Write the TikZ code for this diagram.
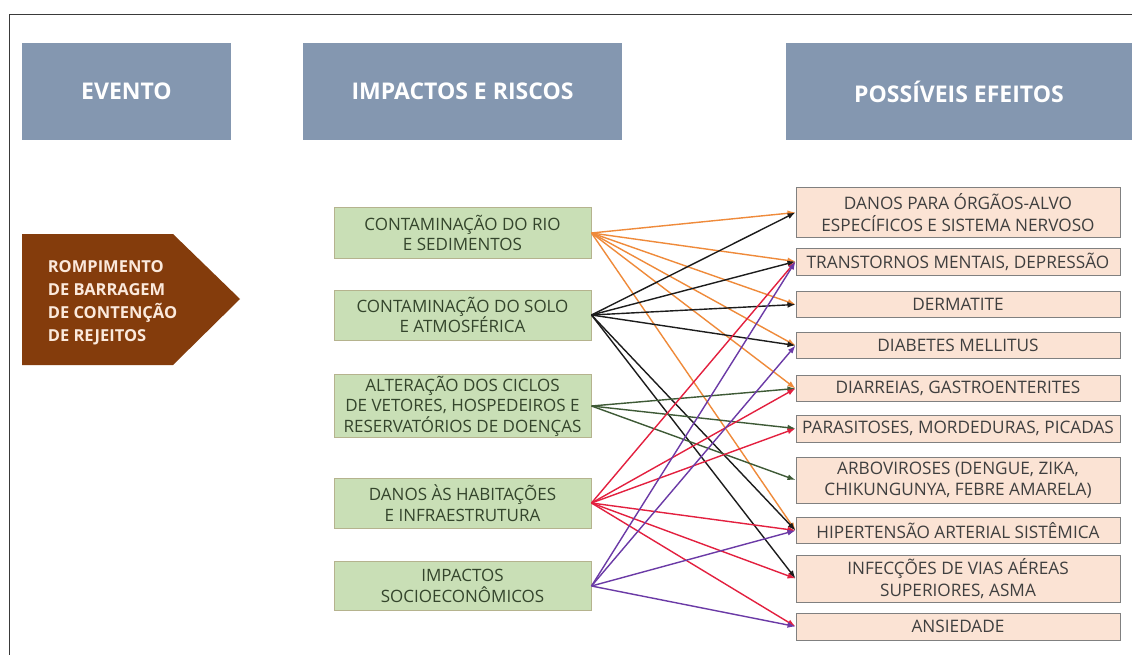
\documentclass[tikz,border=0pt]{standalone}
\usepackage{fontspec}
\setmainfont{Open Sans}
\usetikzlibrary{arrows.meta}
\definecolor{hdr}{HTML}{8497B0}
\definecolor{brownev}{HTML}{843C0C}
\definecolor{evtext}{HTML}{FBE9DC}
\definecolor{midfill}{HTML}{C9DFB6}
\definecolor{midborder}{HTML}{B5B38E}
\definecolor{midtext}{HTML}{34452C}
\definecolor{efffill}{HTML}{FBE3D4}
\definecolor{effborder}{HTML}{808080}
\definecolor{efftext}{HTML}{3F3F3F}
\definecolor{cor}{HTML}{EF8A3A}
\definecolor{cbk}{HTML}{1C1C1C}
\definecolor{cgr}{HTML}{3E5A36}
\definecolor{crd}{HTML}{E3203F}
\definecolor{cpu}{HTML}{6B3AA6}
\definecolor{framecol}{HTML}{3A3A3A}
\tikzset{
  hdrbox/.style={fill=hdr, minimum height=97pt, inner sep=0pt, text=white,
    font=\fontsize{23}{26}\selectfont\bfseries},
  midbox/.style={fill=midfill, draw=midborder, line width=1pt, minimum width=257pt,
    inner sep=0pt, align=center, text=midtext, font=\fontsize{17}{20.5}\selectfont},
  effbox/.style={fill=efffill, draw=effborder, line width=1pt, minimum width=324pt,
    inner sep=0pt, align=center, text=efftext, font=\fontsize{17.2}{21.5}\selectfont},
  link/.style={line width=1.4pt, -{Latex[length=8pt,width=6pt]}}
}
\begin{document}
\begin{tikzpicture}[x=1pt,y=-1pt]
\useasboundingbox (0,0) rectangle (1132,655);
\fill[white] (0,0) rectangle (1132,655);
\draw[framecol, line width=1pt] (9,655) -- (9,15) -- (1132,15);

% headers
\node[hdrbox, minimum width=209pt] (h1) at (126.5,91.5) {EVENTO};
\node[hdrbox, minimum width=319pt] (h2) at (462.5,91.5) {IMPACTOS E RISCOS};
\node[hdrbox, minimum width=346pt] (h3) at (959,91.5) {POSSÍVEIS EFEITOS};

% event pentagon
\fill[brownev] (22,234) -- (173,234) -- (240,299) -- (173,365) -- (22,365) -- cycle;
\node[align=left, text=evtext, font=\fontsize{16.5}{23}\selectfont\bfseries, inner sep=0pt]
  (ev) at (112.5,303) {ROMPIMENTO\\DE BARRAGEM\\DE CONTENÇÃO\\DE REJEITOS};

% middle boxes
\node[midbox, minimum height=50pt] (m1) at (462.5,233) {CONTAMINAÇÃO DO RIO\\E SEDIMENTOS};
\node[midbox, minimum height=50pt] (m2) at (462.5,315) {CONTAMINAÇÃO DO SOLO\\E ATMOSFÉRICA};
\node[midbox, minimum height=63pt] (m3) at (462.5,406) {ALTERAÇÃO DOS CICLOS\\DE VETORES, HOSPEDEIROS E\\RESERVATÓRIOS DE DOENÇAS};
\node[midbox, minimum height=50pt] (m4) at (462.5,503) {DANOS ÀS HABITAÇÕES\\E INFRAESTRUTURA};
\node[midbox, minimum height=49pt] (m5) at (462.5,586) {IMPACTOS\\SOCIOECONÔMICOS};

% effect boxes
\node[effbox, minimum height=49pt] (r1) at (958,212.5) {DANOS PARA ÓRGÃOS-ALVO\\ESPECÍFICOS E SISTEMA NERVOSO};
\node[effbox, minimum height=27pt] (r2) at (958,261.5) {TRANSTORNOS MENTAIS, DEPRESSÃO};
\node[effbox, minimum height=26pt] (r3) at (958,304.5) {DERMATITE};
\node[effbox, minimum height=26pt] (r4) at (958,345.5) {DIABETES MELLITUS};
\node[effbox, minimum height=26pt] (r5) at (958,388.5) {DIARREIAS, GASTROENTERITES};
\node[effbox, minimum height=27pt] (r6) at (958,428.5) {PARASITOSES, MORDEDURAS, PICADAS};
\node[effbox, minimum height=46pt] (r7) at (958,480) {ARBOVIROSES (DENGUE, ZIKA,\\CHIKUNGUNYA, FEBRE AMARELA)};
\node[effbox, minimum height=26pt] (r8) at (958,530.5) {HIPERTENSÃO ARTERIAL SISTÊMICA};
\node[effbox, minimum height=47pt] (r9) at (958,578.5) {INFECÇÕES DE VIAS AÉREAS\\SUPERIORES, ASMA};
\node[effbox, minimum height=27pt] (r10) at (958,626.5) {ANSIEDADE};

% connectors
\foreach \t in {r1,r2,r3,r4,r5,r8} \draw[link, cor] (m1.east) -- (\t.west);
\foreach \t in {r1,r2,r3,r4,r8,r9} \draw[link, cbk] (m2.east) -- (\t.west);
\foreach \t in {r5,r6,r7} \draw[link, cgr] (m3.east) -- (\t.west);
\foreach \t in {r2,r5,r6,r8,r9,r10} \draw[link, crd] (m4.east) -- (\t.west);
\foreach \t in {r2,r4,r8,r10} \draw[link, cpu] (m5.east) -- (\t.west);
\end{tikzpicture}
\end{document}
